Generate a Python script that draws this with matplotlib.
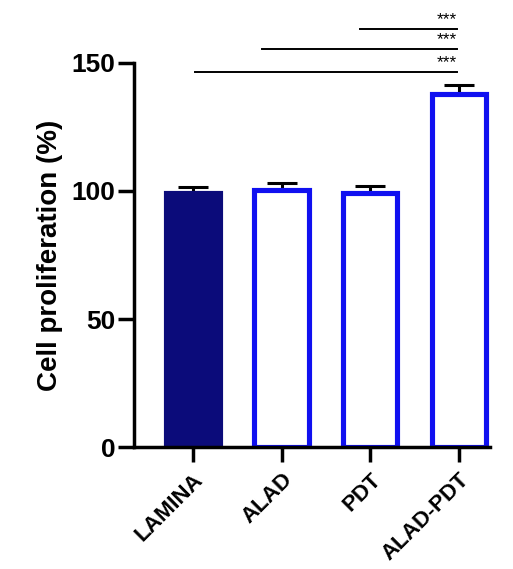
import matplotlib.pyplot as plt

groups = ['LAMINA', 'ALAD', 'PDT', 'ALAD-PDT']
means = [99.2, 100.4, 99.4, 137.8]
errors = [2.5, 2.7, 2.6, 3.6]
face_colors = ['#0b0b7a', 'white', 'white', 'white']
edge_colors = ['#0b0b7a', '#1010f0', '#1010f0', '#1010f0']

# significance brackets: (start x, end x, height)
sig_starts = [0.02, 0.78, 1.88]
sig_ends = [2.98, 2.98, 2.98]
sig_heights = [146.5, 155.5, 163.3]
sig_labels = ['***', '***', '***']


def main():
    plt.rcParams['font.family'] = ['Liberation Sans', 'DejaVu Sans']
    plt.rcParams['font.weight'] = 'bold'
    fig = plt.figure(figsize=(5.13, 5.69), dpi=100)
    ax = fig.add_axes([0.261, 0.2144, 0.694, 0.6749])

    x = list(range(len(groups)))
    ax.errorbar(x, means, yerr=[[0] * len(errors), errors], fmt='none',
                ecolor='black', elinewidth=2.2, capsize=11, capthick=2.2, zorder=1)
    ax.bar(x, means, width=0.61, color=face_colors, edgecolor=edge_colors,
           linewidth=3.7, zorder=2)

    for x0, x1, h, lab in zip(sig_starts, sig_ends, sig_heights, sig_labels):
        ax.plot([x0, x1], [h, h], color='black', lw=1.4, clip_on=False)
        ax.text(x1, h + 0.8, lab, ha='right', va='bottom', fontsize=12.5,
                fontweight='normal', clip_on=False)

    ax.set_xlim(-0.665, 3.35)
    ax.set_ylim(0, 150)
    ax.set_yticks([0, 50, 100, 150])
    ax.set_xticks(x)
    ax.set_xticklabels(groups, rotation=45, ha='right', rotation_mode='anchor',
                       fontsize=16, fontweight='bold')
    ax.tick_params(axis='y', labelsize=19, width=2.5, length=11.5, pad=2)
    ax.tick_params(axis='x', width=2.5, length=11, pad=5)
    for lab in ax.get_yticklabels():
        lab.set_fontweight('bold')
    ax.set_ylabel('Cell proliferation (%)', fontsize=20, fontweight='bold', labelpad=6)

    ax.spines['top'].set_visible(False)
    ax.spines['right'].set_visible(False)
    for side in ['left', 'bottom']:
        ax.spines[side].set_linewidth(2.5)
        ax.spines[side].set_zorder(5)

    fig.savefig('out.png', dpi=100)


if __name__ == "__main__":
    main()
